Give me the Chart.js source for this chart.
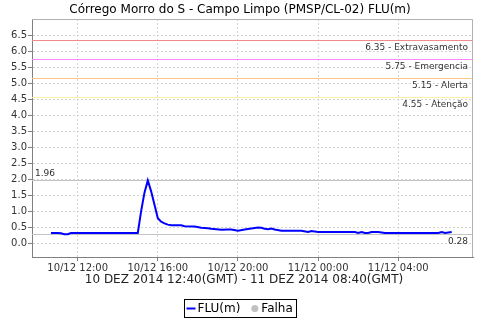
<!DOCTYPE html>
<html lang="pt">
<head>
    <meta charset="UTF-8" />
    <title>FLU(m) - Campo Limpo</title>
    <script src="https://cdn.jsdelivr.net/npm/chart.js"></script>
    <style>
        body { margin: 0; background: #fff; }
    </style>
</head>
<body>
    <canvas id="fluChart" width="480" height="320"></canvas>

    <script>
        // readings (local time) and level in metres
        const times = [
            '10/12 10:40', '10/12 11:00', '10/12 11:10', '10/12 11:20', '10/12 11:30', '10/12 11:40',
            '10/12 15:00', '10/12 15:10', '10/12 15:20', '10/12 15:30', '10/12 15:40', '10/12 15:50',
            '10/12 16:00', '10/12 16:10', '10/12 16:20', '10/12 16:30', '10/12 16:40', '10/12 17:10',
            '10/12 17:20', '10/12 17:50', '10/12 18:10', '10/12 18:30', '10/12 18:40', '10/12 19:10',
            '10/12 19:30', '10/12 19:40', '10/12 20:00', '10/12 20:20', '10/12 20:40', '10/12 21:00',
            '10/12 21:10', '10/12 21:20', '10/12 21:30', '10/12 21:40', '10/12 21:50', '10/12 22:10',
            '10/12 23:10', '10/12 23:30', '10/12 23:40', '11/12 00:00', '11/12 01:50', '11/12 02:00',
            '11/12 02:10', '11/12 02:20', '11/12 02:30', '11/12 02:40', '11/12 03:00', '11/12 03:20',
            '11/12 06:00', '11/12 06:10', '11/12 06:20', '11/12 06:40'
        ];
        const fluValues = [
            0.32, 0.32, 0.31, 0.28, 0.28, 0.32,
            0.32, 1.00, 1.58, 1.96, 1.62, 1.20,
            0.78, 0.67, 0.62, 0.58, 0.56, 0.56,
            0.53, 0.52, 0.48, 0.47, 0.45, 0.42,
            0.43, 0.43, 0.39, 0.43, 0.46, 0.49,
            0.48, 0.45, 0.44, 0.46, 0.43, 0.39,
            0.39, 0.35, 0.38, 0.35, 0.35, 0.32,
            0.35, 0.32, 0.32, 0.35, 0.35, 0.32,
            0.32, 0.35, 0.32, 0.35
        ];

        const limitValues = [6.35, 5.75, 5.15, 4.55];
        const limitNames = ['Extravasamento', 'Emergencia', 'Alerta', 'Atenção'];
        const limitColors = ['#ee8c8c', '#ff88ff', '#ffc888', '#fff0a0'];

        const yTicks = [0.0, 0.5, 1.0, 1.5, 2.0, 2.5, 3.0, 3.5, 4.0, 4.5, 5.0, 5.5, 6.0, 6.5];
        const xTickHours = [12, 16, 20, 24, 28];

        const FONT = '"DejaVu Sans", sans-serif';

        // hours counted from 10/12 00:00
        function toHours(s) {
            const day = parseInt(s.slice(0, 2), 10);
            const hh = parseInt(s.slice(6, 8), 10);
            const mm = parseInt(s.slice(9, 11), 10);
            return (day - 10) * 24 + hh + mm / 60;
        }

        function fmtTick(h) {
            const day = 10 + Math.floor(h / 24);
            const hh = String(h % 24).padStart(2, '0');
            return day + '/12 ' + hh + ':00';
        }

        const extras = {
            id: 'extras',
            beforeDatasetsDraw(chart) {
                const { ctx, chartArea: a, scales: { y } } = chart;
                ctx.save();
                ctx.lineWidth = 1;
                ctx.font = '9px ' + FONT;
                ctx.fillStyle = '#333';

                // alert levels
                limitValues.forEach((v, i) => {
                    const py = Math.round(y.getPixelForValue(v)) + 0.5;
                    ctx.strokeStyle = limitColors[i];
                    ctx.beginPath();
                    ctx.moveTo(a.left, py);
                    ctx.lineTo(a.right, py);
                    ctx.stroke();
                    ctx.textAlign = 'right';
                    ctx.textBaseline = 'top';
                    ctx.fillText(v.toFixed(2) + ' - ' + limitNames[i], a.right - 5, py + 3);
                });

                // max and min of the series
                const maxV = Math.max(...fluValues);
                const minV = Math.min(...fluValues);
                ctx.strokeStyle = '#c4c4c4';
                [maxV, minV].forEach(v => {
                    const py = Math.round(y.getPixelForValue(v)) + 0.5;
                    ctx.beginPath();
                    ctx.moveTo(a.left, py);
                    ctx.lineTo(a.right, py);
                    ctx.stroke();
                });
                const pMax = Math.round(y.getPixelForValue(maxV)) + 0.5;
                const pMin = Math.round(y.getPixelForValue(minV)) + 0.5;
                ctx.textAlign = 'left';
                ctx.textBaseline = 'bottom';
                ctx.fillText(maxV.toFixed(2), a.left + 3, pMax - 2);
                ctx.textAlign = 'right';
                ctx.textBaseline = 'top';
                ctx.fillText(minV.toFixed(2), a.right - 5, pMin + 3);
                ctx.restore();
            },
            afterDraw(chart) {
                const { ctx, chartArea: a } = chart;
                ctx.save();

                // top / right frame
                ctx.strokeStyle = '#b0b0b0';
                ctx.lineWidth = 1;
                ctx.beginPath();
                ctx.moveTo(a.left, a.top + 0.5);
                ctx.lineTo(a.right - 0.5, a.top + 0.5);
                ctx.lineTo(a.right - 0.5, a.bottom);
                ctx.stroke();

                // titles
                ctx.fillStyle = '#000';
                ctx.font = '12px ' + FONT;
                ctx.textAlign = 'center';
                ctx.textBaseline = 'middle';
                ctx.fillText('Córrego Morro do S - Campo Limpo (PMSP/CL-02) FLU(m)', 240, 10);
                ctx.fillStyle = '#222';
                ctx.fillText('10 DEZ 2014 12:40(GMT) - 11 DEZ 2014 08:40(GMT)', 244, 280);

                // legend
                const ds = chart.data.datasets;
                const w1 = ctx.measureText(ds[0].label).width;
                const w2 = ctx.measureText(ds[1].label).width;
                const total = 2 + 9 + 2 + w1 + 11 + 7 + 3 + w2 + 4;
                const x0 = Math.round(240 - total / 2) + 0.5;
                const yc = 308.5;
                ctx.strokeStyle = '#000';
                ctx.strokeRect(x0, 299.5, Math.round(total), 18);
                let x = x0 + 2;
                ctx.strokeStyle = ds[0].borderColor;
                ctx.lineWidth = 2;
                ctx.beginPath();
                ctx.moveTo(x, yc);
                ctx.lineTo(x + 9, yc);
                ctx.stroke();
                x += 11;
                ctx.fillStyle = '#000';
                ctx.textAlign = 'left';
                ctx.fillText(ds[0].label, x, yc);
                x += w1 + 11;
                ctx.fillStyle = ds[1].pointBackgroundColor;
                ctx.beginPath();
                ctx.arc(x + 3.5, yc, 3.5, 0, Math.PI * 2);
                ctx.fill();
                x += 10;
                ctx.fillStyle = '#000';
                ctx.fillText(ds[1].label, x, yc);
                ctx.restore();
            }
        };

        new Chart(document.getElementById('fluChart'), {
            type: 'line',
            data: {
                datasets: [{
                    label: 'FLU(m)',
                    data: times.map((t, i) => ({ x: toHours(t), y: fluValues[i] })),
                    borderColor: '#0000ff',
                    borderWidth: 2,
                    pointRadius: 0,
                    tension: 0,
                    fill: false
                }, {
                    label: 'Falha',
                    data: [],
                    pointBackgroundColor: '#c0c0c0',
                    borderColor: '#c0c0c0',
                    showLine: false
                }]
            },
            options: {
                responsive: false,
                animation: false,
                layout: { padding: { top: 19, right: 7, left: 0, bottom: 0 } },
                plugins: {
                    legend: { display: false },
                    title: { display: false },
                    tooltip: { enabled: false }
                },
                scales: {
                    x: {
                        type: 'linear',
                        min: 9.72,
                        max: 31.73,
                        afterFit: s => { s.height = 63; },
                        afterBuildTicks: s => { s.ticks = xTickHours.map(v => ({ value: v })); },
                        ticks: {
                            callback: v => fmtTick(v),
                            font: { family: FONT, size: 10 },
                            color: '#333',
                            padding: 1,
                            maxRotation: 0,
                            autoSkip: false
                        },
                        grid: { color: '#d4d4d4', tickColor: '#808080', tickLength: 4, tickBorderDash: [] },
                        border: { color: '#808080', dash: [2, 2] }
                    },
                    y: {
                        min: -0.43,
                        max: 7.0,
                        afterFit: s => { s.width = 32; },
                        afterBuildTicks: s => { s.ticks = yTicks.map(v => ({ value: v })); },
                        ticks: {
                            callback: v => v.toFixed(1),
                            font: { family: FONT, size: 10 },
                            color: '#333',
                            padding: 1
                        },
                        grid: { color: '#d4d4d4', tickColor: '#808080', tickLength: 4, tickBorderDash: [] },
                        border: { color: '#808080', dash: [2, 2] }
                    }
                }
            },
            plugins: [extras]
        });
    </script>
</body>
</html>
